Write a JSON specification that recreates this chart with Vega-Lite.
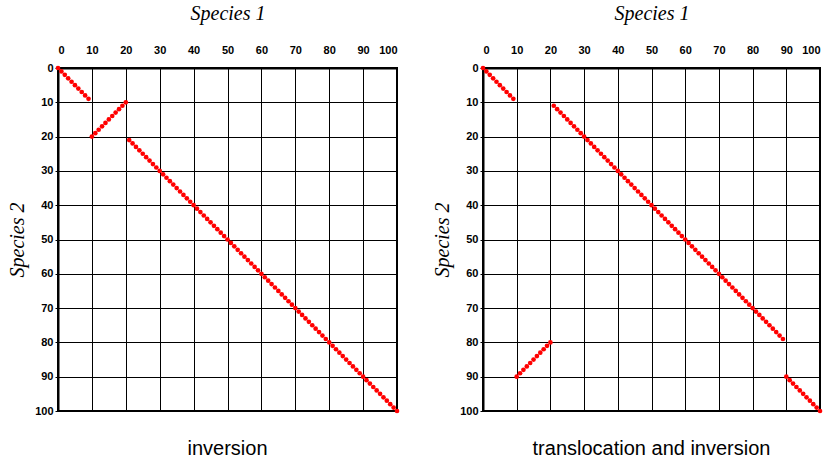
{
"$schema": "https://vega.github.io/schema/vega-lite/v6.json",
"padding": {"left": 6, "top": 2, "right": 5, "bottom": 5},
"bounds": "flush",
"spacing": 86,
"datasets": {
"p1": [
{"x":0,"y":0},{"x":1,"y":1},{"x":2,"y":2},{"x":3,"y":3},{"x":4,"y":4},{"x":5,"y":5},{"x":6,"y":6},{"x":7,"y":7},{"x":8,"y":8},{"x":9,"y":9},
{"x":10,"y":20},{"x":11,"y":19},{"x":12,"y":18},{"x":13,"y":17},{"x":14,"y":16},{"x":15,"y":15},{"x":16,"y":14},{"x":17,"y":13},{"x":18,"y":12},{"x":19,"y":11},{"x":20,"y":10},
{"x":21,"y":21},{"x":22,"y":22},{"x":23,"y":23},{"x":24,"y":24},{"x":25,"y":25},{"x":26,"y":26},{"x":27,"y":27},{"x":28,"y":28},{"x":29,"y":29},{"x":30,"y":30},
{"x":31,"y":31},{"x":32,"y":32},{"x":33,"y":33},{"x":34,"y":34},{"x":35,"y":35},{"x":36,"y":36},{"x":37,"y":37},{"x":38,"y":38},{"x":39,"y":39},{"x":40,"y":40},
{"x":41,"y":41},{"x":42,"y":42},{"x":43,"y":43},{"x":44,"y":44},{"x":45,"y":45},{"x":46,"y":46},{"x":47,"y":47},{"x":48,"y":48},{"x":49,"y":49},{"x":50,"y":50},
{"x":51,"y":51},{"x":52,"y":52},{"x":53,"y":53},{"x":54,"y":54},{"x":55,"y":55},{"x":56,"y":56},{"x":57,"y":57},{"x":58,"y":58},{"x":59,"y":59},{"x":60,"y":60},
{"x":61,"y":61},{"x":62,"y":62},{"x":63,"y":63},{"x":64,"y":64},{"x":65,"y":65},{"x":66,"y":66},{"x":67,"y":67},{"x":68,"y":68},{"x":69,"y":69},{"x":70,"y":70},
{"x":71,"y":71},{"x":72,"y":72},{"x":73,"y":73},{"x":74,"y":74},{"x":75,"y":75},{"x":76,"y":76},{"x":77,"y":77},{"x":78,"y":78},{"x":79,"y":79},{"x":80,"y":80},
{"x":81,"y":81},{"x":82,"y":82},{"x":83,"y":83},{"x":84,"y":84},{"x":85,"y":85},{"x":86,"y":86},{"x":87,"y":87},{"x":88,"y":88},{"x":89,"y":89},{"x":90,"y":90},
{"x":91,"y":91},{"x":92,"y":92},{"x":93,"y":93},{"x":94,"y":94},{"x":95,"y":95},{"x":96,"y":96},{"x":97,"y":97},{"x":98,"y":98},{"x":99,"y":99},{"x":100,"y":100}
],
"p2": [
{"x":0,"y":0},{"x":1,"y":1},{"x":2,"y":2},{"x":3,"y":3},{"x":4,"y":4},{"x":5,"y":5},{"x":6,"y":6},{"x":7,"y":7},{"x":8,"y":8},{"x":9,"y":9},
{"x":10,"y":90},{"x":11,"y":89},{"x":12,"y":88},{"x":13,"y":87},{"x":14,"y":86},{"x":15,"y":85},{"x":16,"y":84},{"x":17,"y":83},{"x":18,"y":82},{"x":19,"y":81},{"x":20,"y":80},
{"x":21,"y":11},{"x":22,"y":12},{"x":23,"y":13},{"x":24,"y":14},{"x":25,"y":15},{"x":26,"y":16},{"x":27,"y":17},{"x":28,"y":18},{"x":29,"y":19},{"x":30,"y":20},
{"x":31,"y":21},{"x":32,"y":22},{"x":33,"y":23},{"x":34,"y":24},{"x":35,"y":25},{"x":36,"y":26},{"x":37,"y":27},{"x":38,"y":28},{"x":39,"y":29},{"x":40,"y":30},
{"x":41,"y":31},{"x":42,"y":32},{"x":43,"y":33},{"x":44,"y":34},{"x":45,"y":35},{"x":46,"y":36},{"x":47,"y":37},{"x":48,"y":38},{"x":49,"y":39},{"x":50,"y":40},
{"x":51,"y":41},{"x":52,"y":42},{"x":53,"y":43},{"x":54,"y":44},{"x":55,"y":45},{"x":56,"y":46},{"x":57,"y":47},{"x":58,"y":48},{"x":59,"y":49},{"x":60,"y":50},
{"x":61,"y":51},{"x":62,"y":52},{"x":63,"y":53},{"x":64,"y":54},{"x":65,"y":55},{"x":66,"y":56},{"x":67,"y":57},{"x":68,"y":58},{"x":69,"y":59},{"x":70,"y":60},
{"x":71,"y":61},{"x":72,"y":62},{"x":73,"y":63},{"x":74,"y":64},{"x":75,"y":65},{"x":76,"y":66},{"x":77,"y":67},{"x":78,"y":68},{"x":79,"y":69},{"x":80,"y":70},
{"x":81,"y":71},{"x":82,"y":72},{"x":83,"y":73},{"x":84,"y":74},{"x":85,"y":75},{"x":86,"y":76},{"x":87,"y":77},{"x":88,"y":78},{"x":89,"y":79},
{"x":90,"y":90},{"x":91,"y":91},{"x":92,"y":92},{"x":93,"y":93},{"x":94,"y":94},{"x":95,"y":95},{"x":96,"y":96},{"x":97,"y":97},{"x":98,"y":98},{"x":99,"y":99},{"x":100,"y":100}
]
},
"hconcat": [
{
"width": 339, "height": 343,
"data": {"name": "p1"},
"title": {"text": "inversion", "orient": "bottom", "offset": 23},
"mark": {"type": "circle", "color": "#ff0000", "size": 22, "opacity": 1},
"encoding": {
"x": {"field": "x", "type": "quantitative", "scale": {"domain": [0, 100], "nice": false},
"axis": {"orient": "top", "values": [0,10,20,30,40,50,60,70,80,90,100], "title": "Species 1", "ticks": false, "labelPadding": 13, "titlePadding": 21}},
"y": {"field": "y", "type": "quantitative", "scale": {"domain": [0, 100], "reverse": true, "nice": false},
"axis": {"values": [0,10,20,30,40,50,60,70,80,90,100], "title": "Species 2", "tickSize": 3, "labelPadding": 2, "titlePadding": 7}}
}
},
{
"width": 337, "height": 343,
"data": {"name": "p2"},
"title": {"text": "translocation and inversion", "orient": "bottom", "offset": 23},
"mark": {"type": "circle", "color": "#ff0000", "size": 22, "opacity": 1},
"encoding": {
"x": {"field": "x", "type": "quantitative", "scale": {"domain": [0, 100], "nice": false},
"axis": {"orient": "top", "values": [0,10,20,30,40,50,60,70,80,90,100], "title": "Species 1", "ticks": false, "labelPadding": 13, "titlePadding": 21}},
"y": {"field": "y", "type": "quantitative", "scale": {"domain": [0, 100], "reverse": true, "nice": false},
"axis": {"values": [0,10,20,30,40,50,60,70,80,90,100], "title": "Species 2", "tickSize": 3, "labelPadding": 2, "titlePadding": 7}}
}
}
],
"config": {
"view": {"stroke": "black", "strokeWidth": 2},
"axis": {"grid": true, "gridColor": "black", "gridOpacity": 1, "gridWidth": 1, "domainColor": "black", "domainWidth": 2, "tickColor": "black", "tickWidth": 1,
"labelFont": "Liberation Sans", "labelFontWeight": "bold", "labelFontSize": 11, "labelColor": "black",
"titleFont": "Liberation Serif", "titleFontStyle": "italic", "titleFontWeight": "normal", "titleFontSize": 20, "titleColor": "black"},
"title": {"font": "Liberation Sans", "fontSize": 20, "fontWeight": "normal", "color": "black", "anchor": "middle"}
}
}
